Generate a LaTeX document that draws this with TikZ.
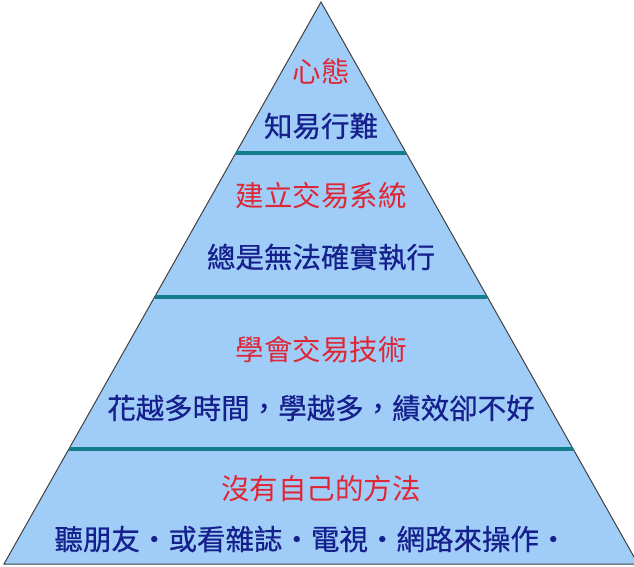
\documentclass[tikz,border=0pt]{standalone}
\usepackage{fontspec}
\newfontfamily\cjk{Noto Sans CJK TC}
\newfontfamily\cjkheavy[FakeBold=0.6]{Noto Sans CJK TC}
\usetikzlibrary{calc}

\definecolor{skyfill}{RGB}{160,205,248}
\definecolor{bandline}{RGB}{20,125,140}
\definecolor{titlered}{RGB}{222,38,52}
\definecolor{textblue}{RGB}{22,32,140}

\begin{document}
\begin{tikzpicture}[x=1pt,y=-1pt,
  title/.style={text=titlered,font=\cjk\fontsize{28.5}{30}\selectfont,inner sep=0pt},
  note/.style={text=textblue,font=\cjkheavy\fontsize{28.5}{30}\selectfont,inner sep=0pt},
  band/.style={bandline,line width=4.5pt}]
  \useasboundingbox (0,0) rectangle (634,567);
  \clip (0,0) rectangle (634,567);
  % pyramid
  \coordinate (apex) at (321,2);
  \coordinate (baseL) at (4,564);
  \coordinate (baseR) at (638,564);
  \filldraw[fill=skyfill,draw=black!75,line width=1pt] (apex)--(baseL)--(baseR)--cycle;
  % band separators
  \foreach \t/\nm in {0.2687/one,0.5249/two,0.7954/three} {
    \draw[band] ($(apex)!\t!(baseL)$) coordinate (\nm L) -- ($(apex)!\t!(baseR)$) coordinate (\nm R);
  }
  % level texts
  \node[title] (mindT) at (321,71) {心態};
  \node[note] (mindN) at (321,126) {知易行難};
  \node[title] (sysT) at (321,196) {建立交易系統};
  \node[note] (sysN) at (321,257) {總是無法確實執行};
  \node[title] (techT) at (321,350) {學會交易技術};
  \node[note] (techN) at (321,408) {花越多時間，學越多，績效卻不好};
  \node[title] (wayT) at (321,489) {沒有自己的方法};
  \node[note] (wayN) at (311,539) {聽朋友・或看雜誌・電視・網路來操作・};
\end{tikzpicture}
\end{document}
